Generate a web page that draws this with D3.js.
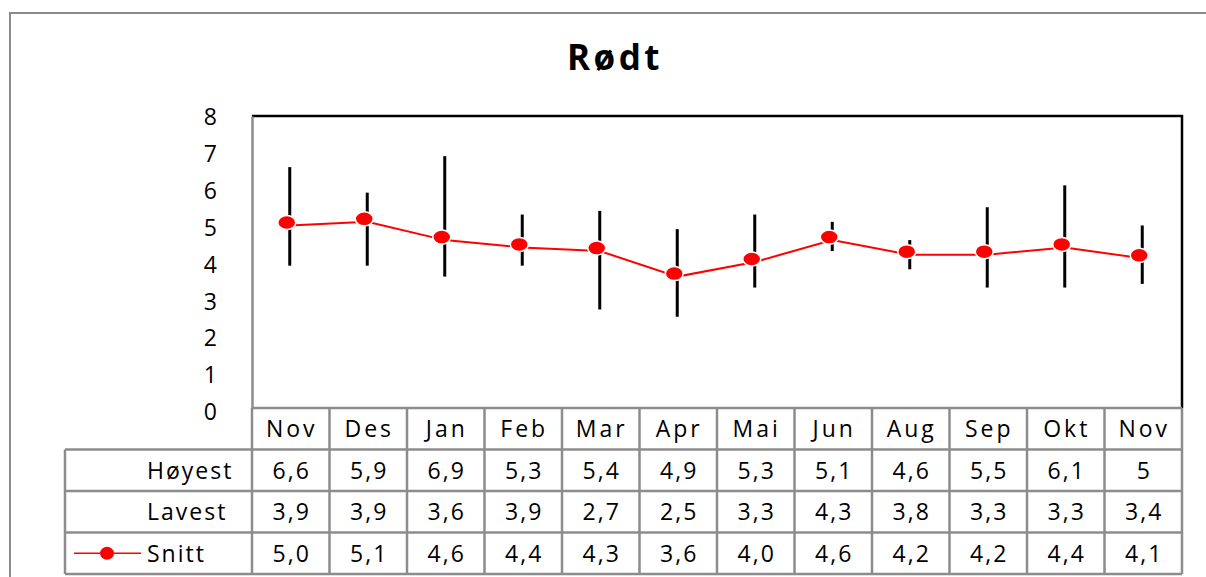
<!DOCTYPE html>
<html>
<head>
<meta charset="utf-8">
<script src="https://cdn.jsdelivr.net/npm/d3@7"></script>
<style>
  body { margin: 0; background: #fff; }
  text { font-family: "Open Sans", "DejaVu Sans", sans-serif; }
</style>
</head>
<body>
<svg id="canvas"></svg>
<script>
// data
let months = ["Nov", "Des", "Jan", "Feb", "Mar", "Apr", "Mai", "Jun", "Aug", "Sep", "Okt", "Nov"];
let hoyest = [6.6, 5.9, 6.9, 5.3, 5.4, 4.9, 5.3, 5.1, 4.6, 5.5, 6.1, 5];
let lavest = [3.9, 3.9, 3.6, 3.9, 2.7, 2.5, 3.3, 4.3, 3.8, 3.3, 3.3, 3.4];
let snitt = [5.0, 5.1, 4.6, 4.4, 4.3, 3.6, 4.0, 4.6, 4.2, 4.2, 4.4, 4.1];
let yTicks = [0, 1, 2, 3, 4, 5, 6, 7, 8];

let width = 1206;
let height = 577;

let plotLeft = 252, plotRight = 1182, plotTop = 116, plotBottom = 408;
let rowH = 41.5;
let labelLeft = 65;
let fontSize = 23;
let spacing = 2;

let canvas = d3.select('#canvas')
    .attr('width', width)
    .attr('height', height);

// outer chart border
canvas.append('rect')
    .attr('x', 10).attr('y', 13)
    .attr('width', width + 20).attr('height', height + 20)
    .attr('fill', 'none')
    .attr('stroke', '#8c8c8c')
    .attr('stroke-width', 2);

// title
canvas.append('text')
    .attr('x', 615).attr('y', 70)
    .attr('text-anchor', 'middle')
    .attr('font-size', 35)
    .attr('font-weight', 'bold')
    .attr('letter-spacing', 3.5)
    .text('Rødt');

// scales
let xScale = d3.scaleBand()
    .domain(d3.range(months.length))
    .range([plotLeft, plotRight])
    .padding(0);
let yScale = d3.scaleLinear()
    .domain([0, 8])
    .range([plotBottom, plotTop]);

// plot area frame (top/right black)
canvas.append('path')
    .attr('d', `M${plotLeft},${plotTop}H${plotRight}V${plotBottom}`)
    .attr('fill', 'none')
    .attr('stroke', '#000')
    .attr('stroke-width', 2.5);

// y axis
let yAxis = d3.axisLeft(yScale).tickValues(yTicks).tickSize(0).tickPadding(35);
let yG = canvas.append('g')
    .attr('transform', `translate(${plotLeft},0)`)
    .call(yAxis);
yG.select('.domain').attr('stroke', '#8c8c8c').attr('stroke-width', 2.5);
yG.selectAll('text')
    .attr('font-size', fontSize)
    .attr('font-family', '"Open Sans", sans-serif')
    .attr('fill', '#000')
    .attr('dy', '0.36em')
    .attr('transform', (d) => `translate(0, ${(8 - d) * 0.45})`);

// table
let bw = xScale.bandwidth();
let tableTop = plotBottom;
let grid = canvas.append('g')
    .attr('stroke', '#8c8c8c')
    .attr('stroke-width', 2.5)
    .attr('fill', 'none');

grid.append('line').attr('x1', plotLeft).attr('x2', plotRight).attr('y1', tableTop).attr('y2', tableTop);
for (let r = 1; r <= 4; r++) {
    grid.append('line')
        .attr('x1', labelLeft)
        .attr('x2', plotRight)
        .attr('y1', tableTop + r * rowH)
        .attr('y2', tableTop + r * rowH);
}
grid.append('line').attr('x1', labelLeft).attr('x2', labelLeft).attr('y1', tableTop + rowH).attr('y2', tableTop + 4 * rowH);
for (let i = 0; i <= months.length; i++) {
    let x = i < months.length ? xScale(i) : plotRight;
    grid.append('line').attr('x1', x).attr('x2', x).attr('y1', tableTop).attr('y2', tableTop + 4 * rowH);
}

// header labels
canvas.append('g').selectAll('text')
    .data(months)
    .enter()
    .append('text')
    .attr('x', (d, i) => xScale(i) + bw / 2 + spacing / 2)
    .attr('y', tableTop + rowH / 2)
    .attr('dy', '0.36em')
    .attr('text-anchor', 'middle')
    .attr('font-size', fontSize)
    .attr('letter-spacing', spacing + 1)
    .text((d) => d);

let fmtPlain = (v) => String(v).replace('.', ',');
let fmtFixed = (v) => v.toFixed(1).replace('.', ',');
let rows = [
    { name: 'Høyest', values: hoyest, fmt: fmtPlain },
    { name: 'Lavest', values: lavest, fmt: fmtPlain },
    { name: 'Snitt', values: snitt, fmt: fmtFixed }
];

rows.forEach((row, r) => {
    let cy = tableTop + (r + 1.5) * rowH;
    canvas.append('text')
        .attr('x', 147)
        .attr('y', cy)
        .attr('dy', '0.36em')
        .attr('font-size', fontSize)
        .attr('letter-spacing', spacing)
        .text(row.name);
    canvas.append('g').selectAll('text')
        .data(row.values)
        .enter()
        .append('text')
        .attr('x', (d, i) => xScale(i) + bw / 2 + spacing / 2)
        .attr('y', cy)
        .attr('dy', '0.36em')
        .attr('text-anchor', 'middle')
        .attr('font-size', fontSize)
        .attr('letter-spacing', spacing)
        .text((d) => row.fmt(d));
});

// legend key in Snitt row
let keyY = tableTop + 3.5 * rowH;
canvas.append('line')
    .attr('x1', 74).attr('x2', 141)
    .attr('y1', keyY).attr('y2', keyY)
    .attr('stroke', 'red').attr('stroke-width', 1.5);
canvas.append('ellipse')
    .attr('cx', 107).attr('cy', keyY)
    .attr('rx', 7).attr('ry', 6.5)
    .attr('fill', 'red');

// high-low whiskers
let cx = (i) => xScale(i) + bw / 2 - 1;
canvas.append('g').selectAll('line')
    .data(months)
    .enter()
    .append('line')
    .attr('x1', (d, i) => cx(i))
    .attr('x2', (d, i) => cx(i))
    .attr('y1', (d, i) => yScale(hoyest[i]))
    .attr('y2', (d, i) => yScale(lavest[i]))
    .attr('stroke', '#000')
    .attr('stroke-width', 3);

// average line
let line = d3.line()
    .x((d, i) => cx(i))
    .y((d) => yScale(d));
canvas.append('path')
    .datum(snitt)
    .attr('d', line)
    .attr('fill', 'none')
    .attr('stroke', 'red')
    .attr('stroke-width', 2);

// markers
canvas.append('g').selectAll('ellipse')
    .data(snitt)
    .enter()
    .append('ellipse')
    .attr('cx', (d, i) => cx(i) - 3)
    .attr('cy', (d) => yScale(d) - 3)
    .attr('rx', 9)
    .attr('ry', 7)
    .attr('fill', 'red')
    .attr('stroke', '#fff')
    .attr('stroke-width', 1.5);
</script>
</body>
</html>
